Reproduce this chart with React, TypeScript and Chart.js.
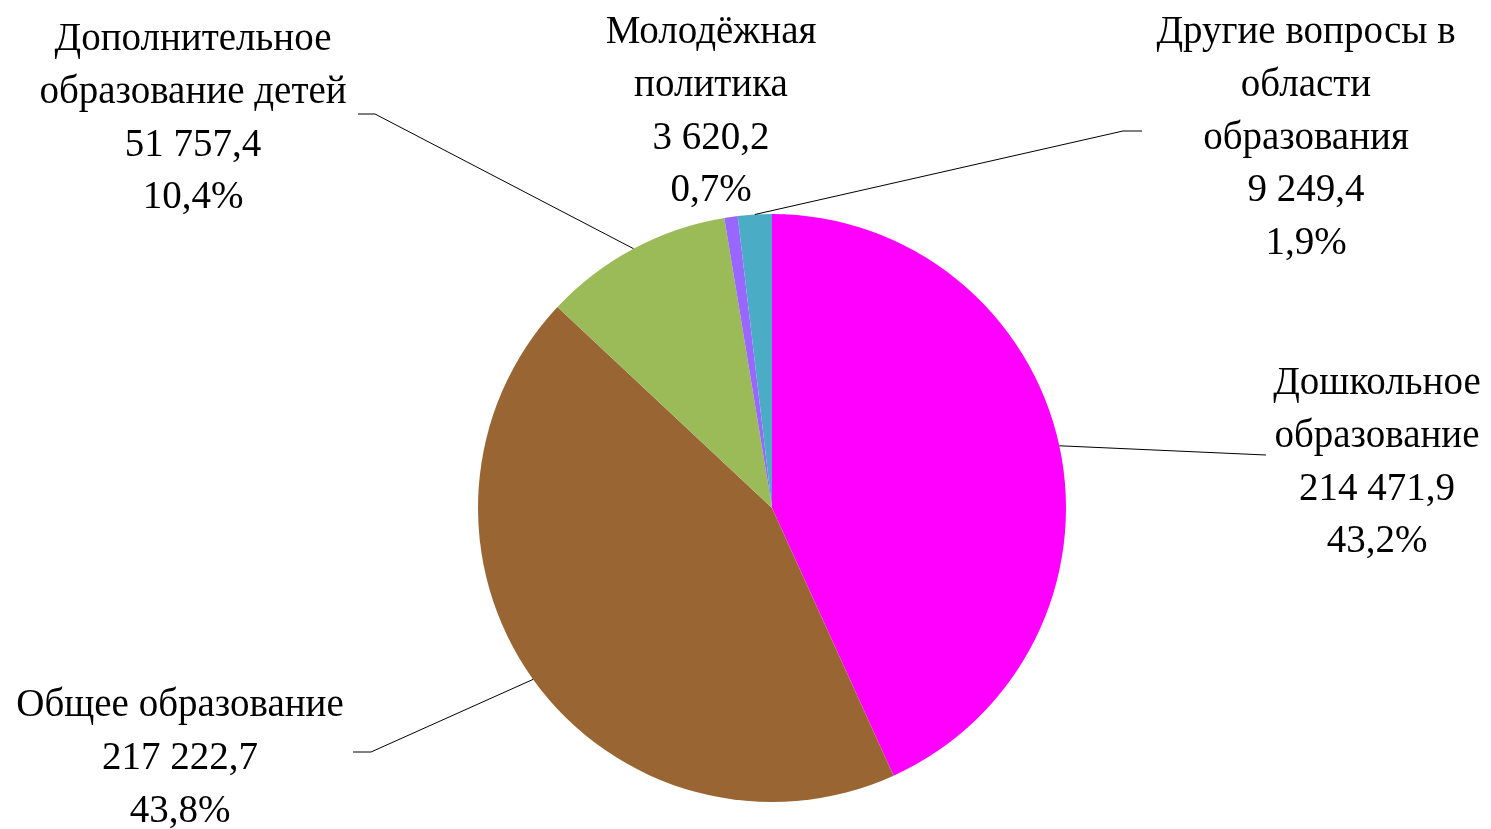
import React, { useEffect, useRef } from "react";
import { Chart, registerables } from "chart.js";

Chart.register(...registerables);

// ---- data ----
const categories: string[] = [
  "Дошкольное\nобразование",
  "Общее образование",
  "Дополнительное\nобразование детей",
  "Молодёжная\nполитика",
  "Другие вопросы в\nобласти\nобразования",
];
const values: number[] = [214471.9, 217222.7, 51757.4, 3620.2, 9249.4];
const colors: string[] = ["#FF00FF", "#996633", "#9BBB59", "#9966FF", "#4BACC6"];

// ---- label layout (text block center x, first baseline y, leader elbow/end) ----
const labelLayout = [
  { cx: 1377, y0: 394, elbow: [1266, 455], end: [1266, 455] },
  { cx: 180, y0: 716, elbow: [371, 752], end: [353, 752] },
  { cx: 193, y0: 50, elbow: [375, 114], end: [358, 114] },
  { cx: 711, y0: 43, elbow: null, end: null },
  { cx: 1306, y0: 43, elbow: [1123, 131], end: [1142, 131] },
];
const LINE_H = 52.8;
const FONT = "39px \"Liberation Serif\", \"Times New Roman\", serif";

function fmtNum(v: number): string {
  const [i, d] = v.toFixed(1).split(".");
  return i.replace(/\B(?=(\d{3})+(?!\d))/g, " ") + "," + d;
}

const total = values.reduce((a, b) => a + b, 0);

const labelPlugin = {
  id: "labelPlugin",
  afterDraw(chart: any) {
    const ctx = chart.ctx as CanvasRenderingContext2D;
    const meta = chart.getDatasetMeta(0);
    ctx.save();
    meta.data.forEach((arc: any, i: number) => {
      const lay = labelLayout[i];
      const mid = (arc.startAngle + arc.endAngle) / 2;
      const sx = arc.x + Math.cos(mid) * arc.outerRadius;
      const sy = arc.y + Math.sin(mid) * arc.outerRadius;
      if (lay.elbow && lay.end) {
        ctx.beginPath();
        ctx.strokeStyle = "#000000";
        ctx.lineWidth = 1;
        ctx.moveTo(sx, sy);
        ctx.lineTo(lay.elbow[0], lay.elbow[1]);
        ctx.lineTo(lay.end[0], lay.end[1]);
        ctx.stroke();
      }
      const lines = categories[i].split("\n");
      lines.push(fmtNum(values[i]));
      lines.push(((values[i] / total) * 100).toFixed(1).replace(".", ",") + "%");
      ctx.fillStyle = "#000000";
      ctx.font = FONT;
      ctx.textAlign = "center";
      ctx.textBaseline = "alphabetic";
      lines.forEach((t, k) => {
        ctx.fillText(t, lay.cx, lay.y0 + k * LINE_H);
      });
    });
    ctx.restore();
  },
};

export default function App() {
  const ref = useRef<HTMLCanvasElement | null>(null);
  useEffect(() => {
    document.body.style.margin = "0";
    const chart = new Chart(ref.current as HTMLCanvasElement, {
      type: "pie",
      data: {
        labels: categories.map((c) => c.replace(/\n/g, " ")),
        datasets: [
          {
            data: values,
            backgroundColor: colors,
            borderWidth: 0,
            hoverOffset: 0,
            offset: 0,
          },
        ],
      },
      options: {
        animation: false,
        responsive: false,
        events: [],
        layout: { padding: { left: 478, right: 425, top: 214, bottom: 27 } },
        plugins: {
          legend: { display: false },
          tooltip: { enabled: false },
        },
      },
      plugins: [labelPlugin],
    });
    return () => {
      chart.destroy();
    };
  }, []);
  return (
    <div style={{ position: "absolute", left: 0, top: 0, width: 1491, height: 829, background: "#fff" }}>
      <canvas ref={ref} width={1491} height={829} style={{ display: "block" }} />
    </div>
  );
}
